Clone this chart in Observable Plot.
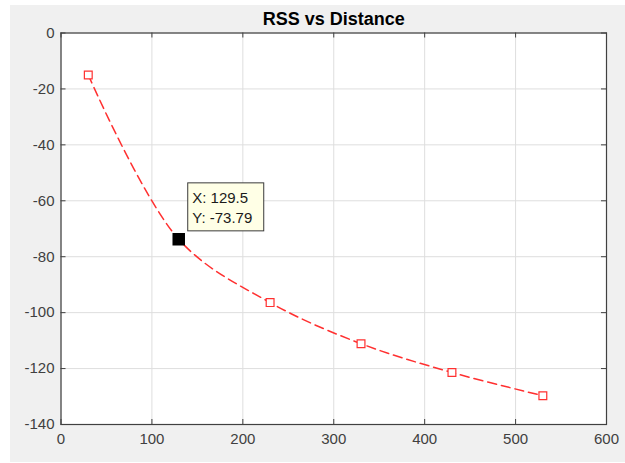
<!DOCTYPE html>
<html>
<head>
<meta charset="utf-8">
<script src="https://cdn.jsdelivr.net/npm/d3@7"></script>
<script src="https://cdn.jsdelivr.net/npm/@observablehq/plot@0.6"></script>
<style>
  html, body { margin: 0; padding: 0; background: white; }
  #chart svg { display: block; }
</style>
</head>
<body>
<div id="chart"></div>
<script>
// ---- data ----
const distance = [30, 129.5, 230, 330, 430, 530];
const rss = [-15, -73.79, -96.4, -111.1, -121.4, -129.7];
const xTicks = [0, 100, 200, 300, 400, 500, 600];
const yTicks = [0, -20, -40, -60, -80, -100, -120, -140];
const chartTitle = "RSS vs Distance";
const tipX = 129.5;
const tipY = -73.79;
const tipLines = ["X: 129.5", "Y: -73.79"];

const points = distance.map((d, i) => ({distance: d, rss: rss[i]}));
const tip = [{distance: tipX, rss: tipY}];

const W = 625, H = 463;
const mt = 32.5, mr = 19, mb = 39, ml = 60.5;
const innerW = W - ml - mr, innerH = H - mt - mb;
const tickLen = 5;
const axisColor = "#404040";
const lineColor = "#ff3030";

const plot = Plot.plot({
  width: W, height: H,
  marginTop: mt, marginRight: mr, marginBottom: mb, marginLeft: ml,
  style: {fontFamily: "'Liberation Sans', Arial, sans-serif", color: axisColor, overflow: "visible"},
  x: {domain: [0, 600]},
  y: {domain: [-140, 0]},
  marks: [
    Plot.frame({fill: "white"}),
    Plot.gridX(xTicks, {stroke: "#dedede", strokeOpacity: 1}),
    Plot.gridY(yTicks, {stroke: "#dedede", strokeOpacity: 1}),
    Plot.line(points, {x: "distance", y: "rss", curve: "catmull-rom", stroke: lineColor, strokeWidth: 1.5, strokeDasharray: "9,5"}),
    Plot.dot(points, {x: "distance", y: "rss", symbol: "square", r: 4.4, stroke: lineColor, strokeWidth: 1.2, fill: "white"}),
    Plot.dot(tip, {x: "distance", y: "rss", symbol: "square", r: 6.2, fill: "black", stroke: "black"}),
    // inward ticks on all four sides
    Plot.ruleX(xTicks, {stroke: axisColor, insetTop: innerH - tickLen}),
    Plot.ruleX(xTicks, {stroke: axisColor, insetBottom: innerH - tickLen}),
    Plot.ruleY(yTicks, {stroke: axisColor, insetRight: innerW - tickLen}),
    Plot.ruleY(yTicks, {stroke: axisColor, insetLeft: innerW - tickLen}),
    Plot.frame({stroke: axisColor, strokeWidth: 1.2}),
    Plot.axisX(xTicks, {tickSize: 0, tickPadding: 9, fontSize: 15, label: null, fill: axisColor, tickFormat: d => String(d)}),
    Plot.axisY(yTicks, {tickSize: 0, tickPadding: 6.5, fontSize: 15, label: null, fill: axisColor, tickFormat: d => String(d)}),
    Plot.text([chartTitle], {frameAnchor: "top", lineAnchor: "bottom", dy: -8.2, fontSize: 18, fontWeight: "bold", fill: "black"})
  ]
});

plot.style.background = "linear-gradient(#f0f0f0, #f0f0f0) 10px 5px / 615px 457px no-repeat, white";

// data tip box, positioned from the library's scales
const sx = plot.scale("x"), sy = plot.scale("y");
const px = sx.apply(tipX), py = sy.apply(tipY);
const g = d3.select(plot).append("g").attr("text-anchor", "start");
g.append("rect")
  .attr("x", px + 9.5).attr("y", py - 56)
  .attr("width", 76).attr("height", 48)
  .attr("fill", "#ffffe6").attr("stroke", "#3a3a3a").attr("stroke-width", 1);
g.selectAll("text.tip").data(tipLines).join("text")
  .attr("class", "tip")
  .attr("x", px + 14)
  .attr("y", (d, i) => py - 35.5 + i * 19.5)
  .attr("font-size", 15)
  .attr("text-anchor", "start")
  .attr("fill", "#1a1a1a")
  .text(d => d);

document.getElementById("chart").appendChild(plot);
</script>
</body>
</html>
